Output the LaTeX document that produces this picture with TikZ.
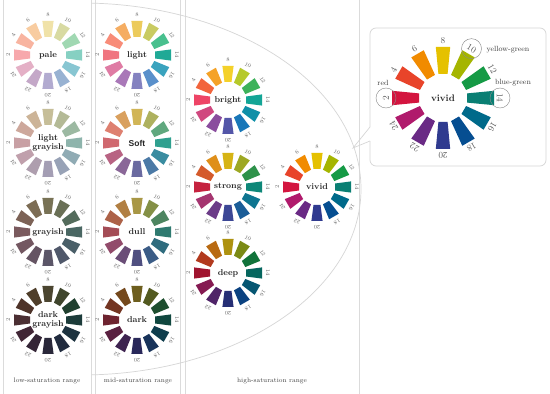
\documentclass[tikz,border=0pt]{standalone}
\usepackage{fontspec}
\newfontfamily\sansfam{Liberation Sans}
\definecolorset{HTML}{pale}{}{2,F7A8AC;4,F8B4A0;6,F8CCA0;8,F0E2A8;10,D8DAA2;12,A0D8B2;14,86D0C2;16,88C6D2;18,98B2D2;20,B2ABD0;22,C4A8C8;24,E4B0C6}
\definecolorset{HTML}{ltg}{}{2,C8A0A4;4,CDA89C;6,CCB498;8,C6BE98;10,B4BA96;12,9CB9A2;14,8EB4AC;16,90ABB4;18,98A2B6;20,A49EB4;22,AE9EAE;24,C0A0AC}
\definecolorset{HTML}{gry}{}{2,7A5A5E;4,7C6256;6,7C6C54;8,787255;10,6A7056;12,546C5C;14,4A6763;16,4A5F68;18,50586A;20,5B5668;22,655463;24,735761}
\definecolorset{HTML}{dkg}{}{2,4B2F33;4,4E3329;6,4F3E2A;8,4B4530;10,3F452C;12,20402F;14,1C3C3A;16,1D3340;18,212B3E;20,2A283A;22,342536;24,412635}
\definecolorset{HTML}{lit}{}{2,F07580;4,F88C78;6,F5AD62;8,ECCB5C;10,C9CB62;12,48C08E;14,20A996;16,3AA3BE;18,5A90CB;20,8482C0;22,A978B8;24,DF7BA4}
\definecolorset{HTML}{sft}{}{2,D0686F;4,DE8070;6,D9A05E;8,D1B556;10,AEB15E;12,60A87E;14,2FA08F;16,3A8CA0;18,4C7AA6;20,6A6AA0;22,8A6798;24,B86383}
\definecolorset{HTML}{dul}{}{2,A44C56;4,AD6248;6,B17F43;8,A89745;10,849046;12,4D8560;14,2F7A70;16,2F6C7E;18,3B5C86;20,4F4F80;22,6A4D77;24,924B6B}
\definecolorset{HTML}{drk}{}{2,6E2330;4,733522;6,74481C;8,6D5E1E;10,535A20;12,1E4F2F;14,10473F;16,0F3E4D;18,18335A;20,29285A;22,3E2350;24,5A2040}
\definecolorset{HTML}{brt}{}{2,EE4466;4,F2643C;6,F5A227;8,F4D12A;10,B6C92A;12,3DB25A;14,13A596;16,1090A8;18,1977B8;20,5356A8;22,8A4D9E;24,D0487F}
\definecolorset{HTML}{str}{}{2,C5223F;4,D45A2B;6,DF8F1A;8,D6B415;10,9DA823;12,2E924A;14,0E8778;16,0E7590;18,1B5D98;20,3C4795;22,6C3C88;24,A53570}
\definecolorset{HTML}{viv}{}{2,D3153F;4,E8442A;6,F18B00;8,E5C100;10,A5B500;12,159A45;14,0A7F73;16,006A8A;18,064E91;20,2F3A8F;22,6A2A85;24,B01A6C}
\definecolorset{HTML}{dep}{}{2,A0142F;4,B23A1E;6,B86A12;8,AE9210;10,7B8A15;12,11733A;14,06665E;16,065672;18,0B4280;20,262F75;22,4F2468;24,851A52}
\tikzset{
  numlab/.style={font=\fontsize{5.5}{5.5}\selectfont, text=black!60, inner sep=0pt},
  bignum/.style={font=\fontsize{9}{9}\selectfont, text=black!65, inner sep=0pt},
  tonelab/.style={font=\fontsize{8.5}{9}\selectfont\bfseries, text=black!85, align=center, inner sep=0pt},
  bigtone/.style={font=\fontsize{9.5}{9.5}\selectfont\bfseries, text=black!85, inner sep=0pt},
  rangelab/.style={font=\fontsize{6.5}{7}\selectfont, text=black!75, inner sep=0pt},
  namelab/.style={font=\fontsize{7.5}{7.5}\selectfont, text=black!75, inner sep=0pt},
  divider/.style={draw=black!14, line width=0.6pt},
  arcline/.style={draw=black!16, line width=0.7pt},
  boxline/.style={draw=black!16, line width=0.7pt},
  ringline/.style={draw=black!45, line width=0.45pt}
}
\newcommand{\tonewheel}[5]{%
  \begin{scope}[shift={(#1,394-#2)}]
    \foreach \h in {2,4,...,24}{
      \pgfmathsetmacro\ang{210-15*\h}
      \fill[fill=#3\h, rotate=\ang] (18,-3.5) -- (34,-5.6) -- (34,5.6) -- (18,3.5) -- cycle;
      \node[numlab, rotate=\ang-90] (#5-\h) at (\ang:40) {\h};
    }
    \node[tonelab] (#5) at (0,0) {#4};
  \end{scope}}
\begin{document}
\begin{tikzpicture}[x=1pt,y=1pt]
\useasboundingbox (0,0) rectangle (550,394);
\fill[white] (0,0) rectangle (550,394);
% column dividers
\foreach \xx/\nm in {3/d1,91/d2,95/d3,180/d4,185/d5,359/d6}{
  \coordinate (\nm t) at (\xx,394);
  \coordinate (\nm b) at (\xx,0);
  \draw[divider] (\nm t) -- (\nm b);
}
% big arc
\begin{scope}
  \clip (91,0) rectangle (550,394);
  \draw[arcline] (81,205) ellipse [x radius=280, y radius=186];
\end{scope}
% wheels
\tonewheel{48}{55}{pale}{pale}{wpale}
\tonewheel{48}{143}{ltg}{light\\grayish}{wltg}
\tonewheel{48}{232}{gry}{grayish}{wgry}
\tonewheel{48}{320}{dkg}{dark\\grayish}{wdkg}
\tonewheel{137}{55}{lit}{light}{wlit}
\tonewheel{137}{143}{sft}{{\sansfam\bfseries Soft}}{wsft}
\tonewheel{137}{232}{dul}{dull}{wdul}
\tonewheel{137}{320}{drk}{dark}{wdrk}
\tonewheel{228}{100}{brt}{bright}{wbrt}
\tonewheel{228}{187}{str}{strong}{wstr}
\tonewheel{317}{187}{viv}{vivid}{wviv}
\tonewheel{228}{273}{dep}{deep}{wdep}
% callout box
\coordinate (tip) at (353,394-148);
\draw[boxline, fill=white, rounded corners=6] (370,394-28) rectangle (546,394-166);
\fill[white] (368,394-127) rectangle (372,394-141);
\draw[boxline, line join=miter] (370,394-127) -- (tip) -- (370,394-141);
% big vivid wheel
\begin{scope}[shift={(443,394-98)}]
  \foreach \h in {2,4,...,24}{
    \pgfmathsetmacro\ang{210-15*\h}
    \fill[fill=viv\h, rotate=\ang] (24,-4.6) -- (51,-7.2) -- (51,7.2) -- (24,4.6) -- cycle;
    \node[bignum, rotate=\ang-90] (big-\h) at (\ang:57) {\h};
  }
  \node[bigtone] (bigviv) at (0,0) {vivid};
\end{scope}
\draw[ringline] (big-2) circle (10);
\draw[ringline] (big-10) circle (10);
\draw[ringline] (big-14) circle (10);
\node[namelab] (nred) at (383,394-83) {red};
\node[namelab] (nyg) at (508,394-50) {yellow-green};
\node[namelab] (nbg) at (513,394-83) {blue-green};
% range labels
\node[rangelab] (r1) at (47,13) {low-saturation range};
\node[rangelab] (r2) at (138,13) {mid-saturation range};
\node[rangelab] (r3) at (272,13) {high-saturation range};
\end{tikzpicture}
\end{document}
